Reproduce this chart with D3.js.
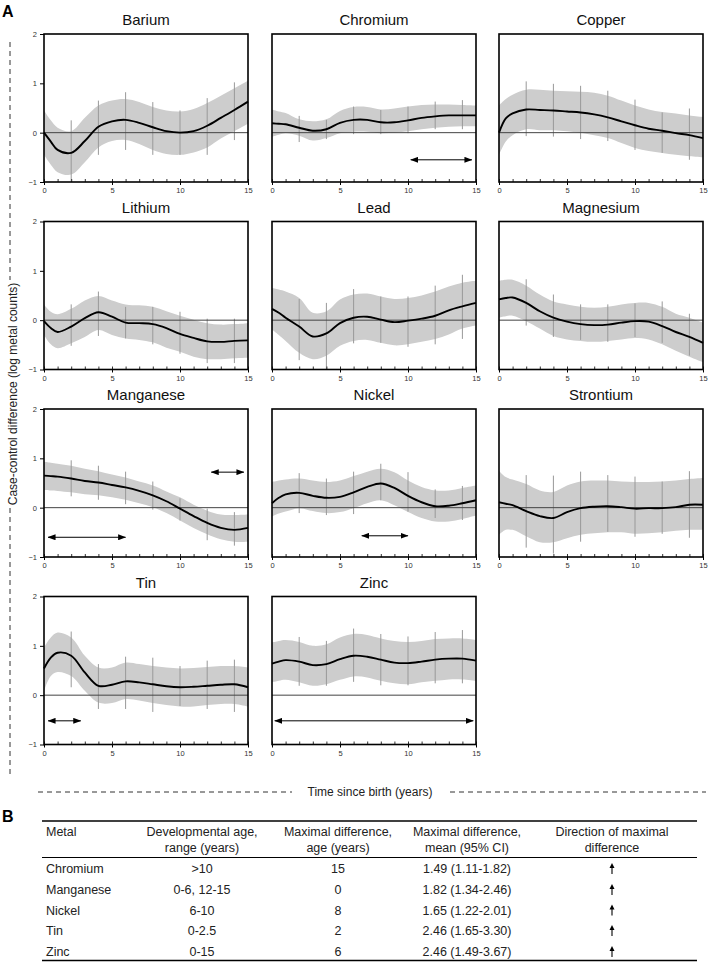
<!DOCTYPE html>
<html><head><meta charset="utf-8">
<script src="https://cdn.jsdelivr.net/npm/d3@7/dist/d3.min.js"></script>
<style>body{margin:0;background:#fff;} svg{display:block;font-family:"Liberation Sans",Arial,sans-serif;}</style>
</head><body><svg id="c" width="709" height="962"></svg>
<script>
const metals = ["Barium","Chromium","Copper","Lithium","Lead","Magnesium","Manganese","Nickel","Strontium","Tin","Zinc"];
const years = [0,0.5,1,2,3,4,5,6,7,8,9,10,11,12,13,14,15];
const meanValues = [
 [0,-0.18,-0.35,-0.41,-0.17,0.12,0.23,0.26,0.2,0.11,0.03,0,0.03,0.14,0.3,0.46,0.63],
 [0.19,0.18,0.17,0.1,0.04,0.07,0.2,0.26,0.26,0.21,0.21,0.25,0.3,0.33,0.35,0.35,0.35],
 [0,0.29,0.39,0.47,0.46,0.45,0.43,0.41,0.37,0.31,0.23,0.15,0.08,0.04,-0.01,-0.05,-0.11],
 [-0.02,-0.16,-0.24,-0.13,0.04,0.16,0.07,-0.05,-0.06,-0.08,-0.16,-0.28,-0.36,-0.43,-0.44,-0.42,-0.41],
 [0.23,0.15,0.05,-0.13,-0.33,-0.27,-0.06,0.05,0.07,0.01,-0.04,-0.01,0.03,0.09,0.2,0.28,0.35],
 [0.42,0.45,0.46,0.35,0.18,0.05,-0.03,-0.08,-0.1,-0.09,-0.05,-0.02,-0.03,-0.12,-0.24,-0.34,-0.46],
 [0.65,0.64,0.63,0.59,0.54,0.51,0.46,0.41,0.34,0.25,0.13,-0.02,-0.17,-0.31,-0.41,-0.45,-0.41],
 [0.09,0.2,0.27,0.3,0.24,0.2,0.22,0.31,0.42,0.49,0.4,0.24,0.11,0.03,0.04,0.09,0.15],
 [0.11,0.08,0.05,-0.07,-0.17,-0.21,-0.09,-0.01,0.02,0.03,0.01,-0.02,-0.01,-0.01,0.01,0.06,0.06],
 [0.54,0.76,0.86,0.8,0.46,0.19,0.21,0.28,0.26,0.22,0.18,0.16,0.17,0.19,0.21,0.22,0.16],
 [0.64,0.68,0.71,0.68,0.61,0.63,0.73,0.8,0.78,0.72,0.66,0.65,0.68,0.72,0.74,0.74,0.7]
];
const lowerValues = [
 [-0.45,-0.65,-0.8,-0.85,-0.6,-0.3,-0.17,-0.15,-0.23,-0.35,-0.43,-0.45,-0.4,-0.3,-0.12,0.03,0.18],
 [-0.08,-0.04,-0.01,-0.06,-0.16,-0.11,-0.01,0.02,0.02,-0.01,0,0.03,0.07,0.1,0.12,0.13,0.13],
 [-0.45,-0.18,-0.05,0.07,0.05,0.05,0.03,0,-0.05,-0.11,-0.21,-0.31,-0.37,-0.41,-0.45,-0.48,-0.5],
 [-0.3,-0.49,-0.57,-0.47,-0.34,-0.2,-0.3,-0.37,-0.4,-0.45,-0.56,-0.64,-0.74,-0.79,-0.79,-0.77,-0.76],
 [-0.19,-0.3,-0.42,-0.66,-0.79,-0.72,-0.52,-0.42,-0.4,-0.46,-0.51,-0.49,-0.44,-0.38,-0.29,-0.17,-0.11],
 [0.05,0.08,0.09,-0.02,-0.17,-0.32,-0.39,-0.42,-0.44,-0.42,-0.39,-0.36,-0.39,-0.49,-0.62,-0.74,-0.85],
 [0.36,0.35,0.34,0.31,0.27,0.25,0.21,0.16,0.09,0.01,-0.11,-0.26,-0.41,-0.54,-0.64,-0.69,-0.69],
 [-0.18,-0.12,-0.08,-0.01,-0.07,-0.11,-0.09,-0.01,0.09,0.15,0.05,-0.09,-0.21,-0.28,-0.28,-0.23,-0.16],
 [-0.55,-0.45,-0.45,-0.58,-0.7,-0.7,-0.62,-0.55,-0.52,-0.5,-0.5,-0.53,-0.52,-0.5,-0.47,-0.45,-0.45],
 [0.09,0.39,0.47,0.39,0.09,-0.15,-0.16,-0.08,-0.11,-0.16,-0.2,-0.23,-0.23,-0.2,-0.18,-0.18,-0.23],
 [0.26,0.29,0.31,0.26,0.19,0.22,0.31,0.38,0.36,0.29,0.24,0.22,0.26,0.29,0.32,0.32,0.29]
];
const upperValues = [
 [0.45,0.25,0.1,0.03,0.3,0.55,0.65,0.68,0.62,0.52,0.45,0.43,0.48,0.6,0.75,0.9,1.05],
 [0.47,0.43,0.4,0.27,0.23,0.27,0.44,0.52,0.52,0.47,0.49,0.53,0.56,0.57,0.57,0.56,0.55],
 [0.55,0.68,0.77,0.87,0.87,0.85,0.84,0.83,0.81,0.75,0.65,0.55,0.47,0.42,0.39,0.35,0.32],
 [0.32,0.17,0.12,0.23,0.4,0.49,0.4,0.32,0.3,0.27,0.18,0.09,0.01,-0.06,-0.09,-0.08,-0.06],
 [0.65,0.62,0.58,0.45,0.15,0.18,0.42,0.52,0.54,0.48,0.43,0.45,0.5,0.58,0.68,0.76,0.8],
 [0.8,0.82,0.82,0.7,0.52,0.38,0.32,0.27,0.25,0.27,0.32,0.35,0.35,0.27,0.13,0.05,-0.05],
 [0.93,0.91,0.89,0.85,0.79,0.74,0.67,0.61,0.53,0.45,0.33,0.21,0.06,-0.06,-0.14,-0.15,-0.14],
 [0.52,0.55,0.57,0.59,0.55,0.52,0.55,0.64,0.73,0.79,0.72,0.55,0.42,0.35,0.35,0.4,0.45],
 [0.75,0.62,0.57,0.48,0.35,0.32,0.45,0.53,0.55,0.55,0.53,0.52,0.52,0.53,0.55,0.58,0.6],
 [0.97,1.17,1.27,1.17,0.8,0.56,0.56,0.66,0.63,0.59,0.56,0.54,0.55,0.57,0.59,0.59,0.56],
 [1.07,1.1,1.12,1.08,1.0,1.03,1.17,1.24,1.22,1.15,1.1,1.08,1.1,1.14,1.15,1.15,1.12]
];
const barYears = [2,4,6,8,10,12,14];
const barLow = [
 [-1.0,-0.45,-0.35,-0.45,-0.45,-0.45,-0.15],
 [-0.19,-0.13,-0.03,-0.03,-0.01,0.07,0.07],
 [-0.07,-0.08,-0.13,-0.17,-0.35,-0.41,-0.55],
 [-0.52,-0.32,-0.37,-0.49,-0.68,-0.87,-0.87],
 [-0.81,-0.99,-0.47,-0.46,-0.54,-0.49,-0.38],
 [-0.11,-0.34,-0.4,-0.44,-0.34,-0.46,-0.72],
 [0.23,0.16,0.07,-0.04,-0.26,-0.66,-0.77],
 [-0.11,-0.15,-0.13,0.15,-0.08,-0.21,-0.25],
 [-0.81,-0.93,-0.69,-0.49,-0.59,-0.53,-0.61],
 [0.16,-0.28,-0.28,-0.34,-0.22,-0.28,-0.34],
 [0.19,0.19,0.27,0.2,0.2,0.24,0.24]
];
const barHigh = [
 [0.25,0.65,0.82,0.62,0.45,0.7,1.02],
 [0.34,0.26,0.53,0.46,0.53,0.63,0.66],
 [1.04,0.99,0.95,0.85,0.67,0.41,0.49],
 [0.32,0.58,0.27,0.27,0.17,0.03,0.03],
 [0.43,0.35,0.63,0.48,0.48,0.7,0.92],
 [0.83,0.52,0.32,0.32,0.34,0.38,0.13],
 [0.96,0.85,0.73,0.53,0.19,-0.02,-0.09],
 [0.7,0.59,0.73,0.89,0.72,0.37,0.44],
 [0.66,0.65,0.73,0.66,0.63,0.53,0.74],
 [1.29,0.63,0.78,0.76,0.59,0.7,0.72],
 [1.18,1.1,1.35,1.24,1.19,1.28,1.32]
];
const arrowMetals = ["Chromium","Manganese","Manganese","Nickel","Tin","Zinc"];
const arrowFrom = [10.2,0.3,12.3,6.6,0.3,0.2];
const arrowTo = [14.7,6.0,14.7,10.0,2.7,14.8];
const arrowLevel = [-0.55,-0.6,0.72,-0.57,-0.52,-0.52];
const xTicks = [0,5,10,15];
const yTicks = [-1,0,1,2];
const tableHeadTop = ["Metal","Developmental age,","Maximal difference,","Maximal difference,","Direction of maximal"];
const tableHeadBottom = ["","range (years)","age (years)","mean (95% CI)","difference"];
const tableMetal = ["Chromium","Manganese","Nickel","Tin","Zinc"];
const tableRange = [">10","0-6, 12-15","6-10","0-2.5","0-15"];
const tableAge = ["15","0","8","2","6"];
const tableMean = ["1.49 (1.11-1.82)","1.82 (1.34-2.46)","1.65 (1.22-2.01)","2.46 (1.65-3.30)","2.46 (1.49-3.67)"];
const tableDirection = ["up","up","up","up","up"];

const svg = d3.select("#c");
const defs = svg.append("defs");
defs.append("marker").attr("id","ah").attr("viewBox","0 0 8 6").attr("refX",7.5).attr("refY",3)
  .attr("markerWidth",8).attr("markerHeight",6).attr("markerUnits","userSpaceOnUse")
  .attr("orient","auto-start-reverse")
  .append("path").attr("d","M0,0 L8,3 L0,6 Z").attr("fill","#000");

const colX = [44, 272, 499], rowY = [34, 221.5, 409, 596.5];
const W = 204, H = 148;
const curve = d3.curveCatmullRom.alpha(0.5);

metals.forEach((m, i) => {
  const c = i % 3, r = Math.floor(i / 3);
  const x0 = colX[c], y0 = rowY[r];
  const x = d3.scaleLinear().domain([0, 15]).range([x0, x0 + W]);
  const y = d3.scaleLinear().domain([-1, 2]).range([y0 + H, y0]);
  const g = svg.append("g");
  const pts = years.map((t, k) => ({t, m: meanValues[i][k], lo: lowerValues[i][k], hi: upperValues[i][k]}));
  g.append("path").datum(pts)
    .attr("d", d3.area().x(d => x(d.t)).y0(d => y(d.lo)).y1(d => y(d.hi)).curve(curve))
    .attr("fill", "#cdcdcd");
  g.selectAll(".bar").data(barYears).enter().append("line")
    .attr("x1", t => x(t)).attr("x2", t => x(t))
    .attr("y1", (t, k) => y(barLow[i][k])).attr("y2", (t, k) => y(barHigh[i][k]))
    .attr("stroke", "#999").attr("stroke-width", 1);
  g.append("line").attr("x1", x(0)).attr("x2", x(15)).attr("y1", y(0)).attr("y2", y(0))
    .attr("stroke", "#444").attr("stroke-width", 1);
  g.append("path").datum(pts)
    .attr("d", d3.line().x(d => x(d.t)).y(d => y(d.m)).curve(curve))
    .attr("fill", "none").attr("stroke", "#000").attr("stroke-width", 1.9);
  const minor = d3.axisBottom(x).tickValues(d3.range(0, 16)).tickSize(-3).tickFormat("");
  g.append("g").attr("transform", `translate(0,${y0 + H})`).call(minor)
    .call(s => s.select(".domain").remove())
    .selectAll("line").attr("stroke", "#333");
  const xa = d3.axisBottom(x).tickValues(xTicks).tickSize(3).tickPadding(3);
  g.append("g").attr("transform", `translate(0,${y0 + H})`).call(xa)
    .call(s => s.select(".domain").remove())
    .call(s => s.selectAll("text").attr("font-size", 7.5).attr("fill", "#333").attr("font-family", "Liberation Sans, Arial, sans-serif"))
    .call(s => s.selectAll("line").attr("stroke", "#000"));
  if (c === 0) {
    const ya = d3.axisLeft(y).tickValues(yTicks).tickSize(4).tickPadding(3).tickFormat(d3.format("d"));
    g.append("g").attr("transform", `translate(${x0},0)`).call(ya)
      .call(s => s.select(".domain").remove())
      .call(s => s.selectAll("text").attr("font-size", 7.5).attr("fill", "#333").attr("font-family", "Liberation Sans, Arial, sans-serif"))
      .call(s => s.selectAll("line").attr("stroke", "#000"));
  }
  g.append("rect").attr("x", x0).attr("y", y0).attr("width", W).attr("height", H)
    .attr("fill", "none").attr("stroke", "#000").attr("stroke-width", 1.6);
  g.append("text").attr("x", x0 + W / 2).attr("y", y0 - 9).attr("text-anchor", "middle")
    .attr("font-size", 15).attr("fill", "#111").text(m);
  arrowMetals.forEach((am, k) => {
    if (am !== m) return;
    g.append("line").attr("x1", x(arrowFrom[k])).attr("x2", x(arrowTo[k]))
      .attr("y1", y(arrowLevel[k])).attr("y2", y(arrowLevel[k]))
      .attr("stroke", "#000").attr("stroke-width", 1)
      .attr("marker-start", "url(#ah)").attr("marker-end", "url(#ah)");
  });
});

svg.append("text").attr("x", 2).attr("y", 17).attr("font-size", 16).attr("font-weight", "bold").text("A");
svg.append("text").attr("x", 2).attr("y", 822).attr("font-size", 16).attr("font-weight", "bold").text("B");

svg.append("text").attr("transform", "translate(17,394) rotate(-90)").attr("text-anchor", "middle")
  .attr("font-size", 12).attr("fill", "#222").text("Case-control difference (log metal counts)");
[[42, 280], [508, 778]].forEach(([a, b]) => svg.append("line").attr("x1", 10).attr("x2", 10).attr("y1", a).attr("y2", b)
  .attr("stroke", "#333").attr("stroke-width", 1).attr("stroke-dasharray", "5,4"));
svg.append("text").attr("x", 370).attr("y", 796).attr("text-anchor", "middle")
  .attr("font-size", 12).attr("fill", "#222").text("Time since birth (years)");
[[38, 292], [450, 706]].forEach(([a, b]) => svg.append("line").attr("x1", a).attr("x2", b).attr("y1", 792).attr("y2", 792)
  .attr("stroke", "#333").attr("stroke-width", 1).attr("stroke-dasharray", "5,4"));

// table
const tl = svg.append("g").attr("font-size", 12.5).attr("fill", "#222");
const tx0 = 42, tx1 = 697;
[[821, 1.4], [857.5, 1], [960.5, 1.4]].forEach(([yy, w]) => tl.append("line").attr("x1", tx0).attr("x2", tx1)
  .attr("y1", yy).attr("y2", yy).attr("stroke", "#000").attr("stroke-width", w));
const colCenters = [46, 202, 338, 467, 612];
tableHeadTop.forEach((t, k) => tl.append("text").attr("x", colCenters[k]).attr("y", 836)
  .attr("text-anchor", k === 0 ? "start" : "middle").text(t));
tableHeadBottom.forEach((t, k) => tl.append("text").attr("x", colCenters[k]).attr("y", 852)
  .attr("text-anchor", "middle").text(t));
const rowBase = [873, 894, 914.5, 935, 956];
tableMetal.forEach((t, k) => {
  const yy = rowBase[k];
  tl.append("text").attr("x", colCenters[0]).attr("y", yy).text(t);
  tl.append("text").attr("x", colCenters[1]).attr("y", yy).attr("text-anchor", "middle").text(tableRange[k]);
  tl.append("text").attr("x", colCenters[2]).attr("y", yy).attr("text-anchor", "middle").text(tableAge[k]);
  tl.append("text").attr("x", colCenters[3]).attr("y", yy).attr("text-anchor", "middle").text(tableMean[k]);
  if (tableDirection[k] === "up") {
    const ax = colCenters[4];
    tl.append("line").attr("x1", ax).attr("x2", ax).attr("y1", yy + 1).attr("y2", yy - 6)
      .attr("stroke", "#000").attr("stroke-width", 1.1);
    tl.append("path").attr("d", `M${ax - 2.5},${yy - 5} L${ax},${yy - 10} L${ax + 2.5},${yy - 5} Z`).attr("fill", "#000");
  }
});
</script></body></html>
